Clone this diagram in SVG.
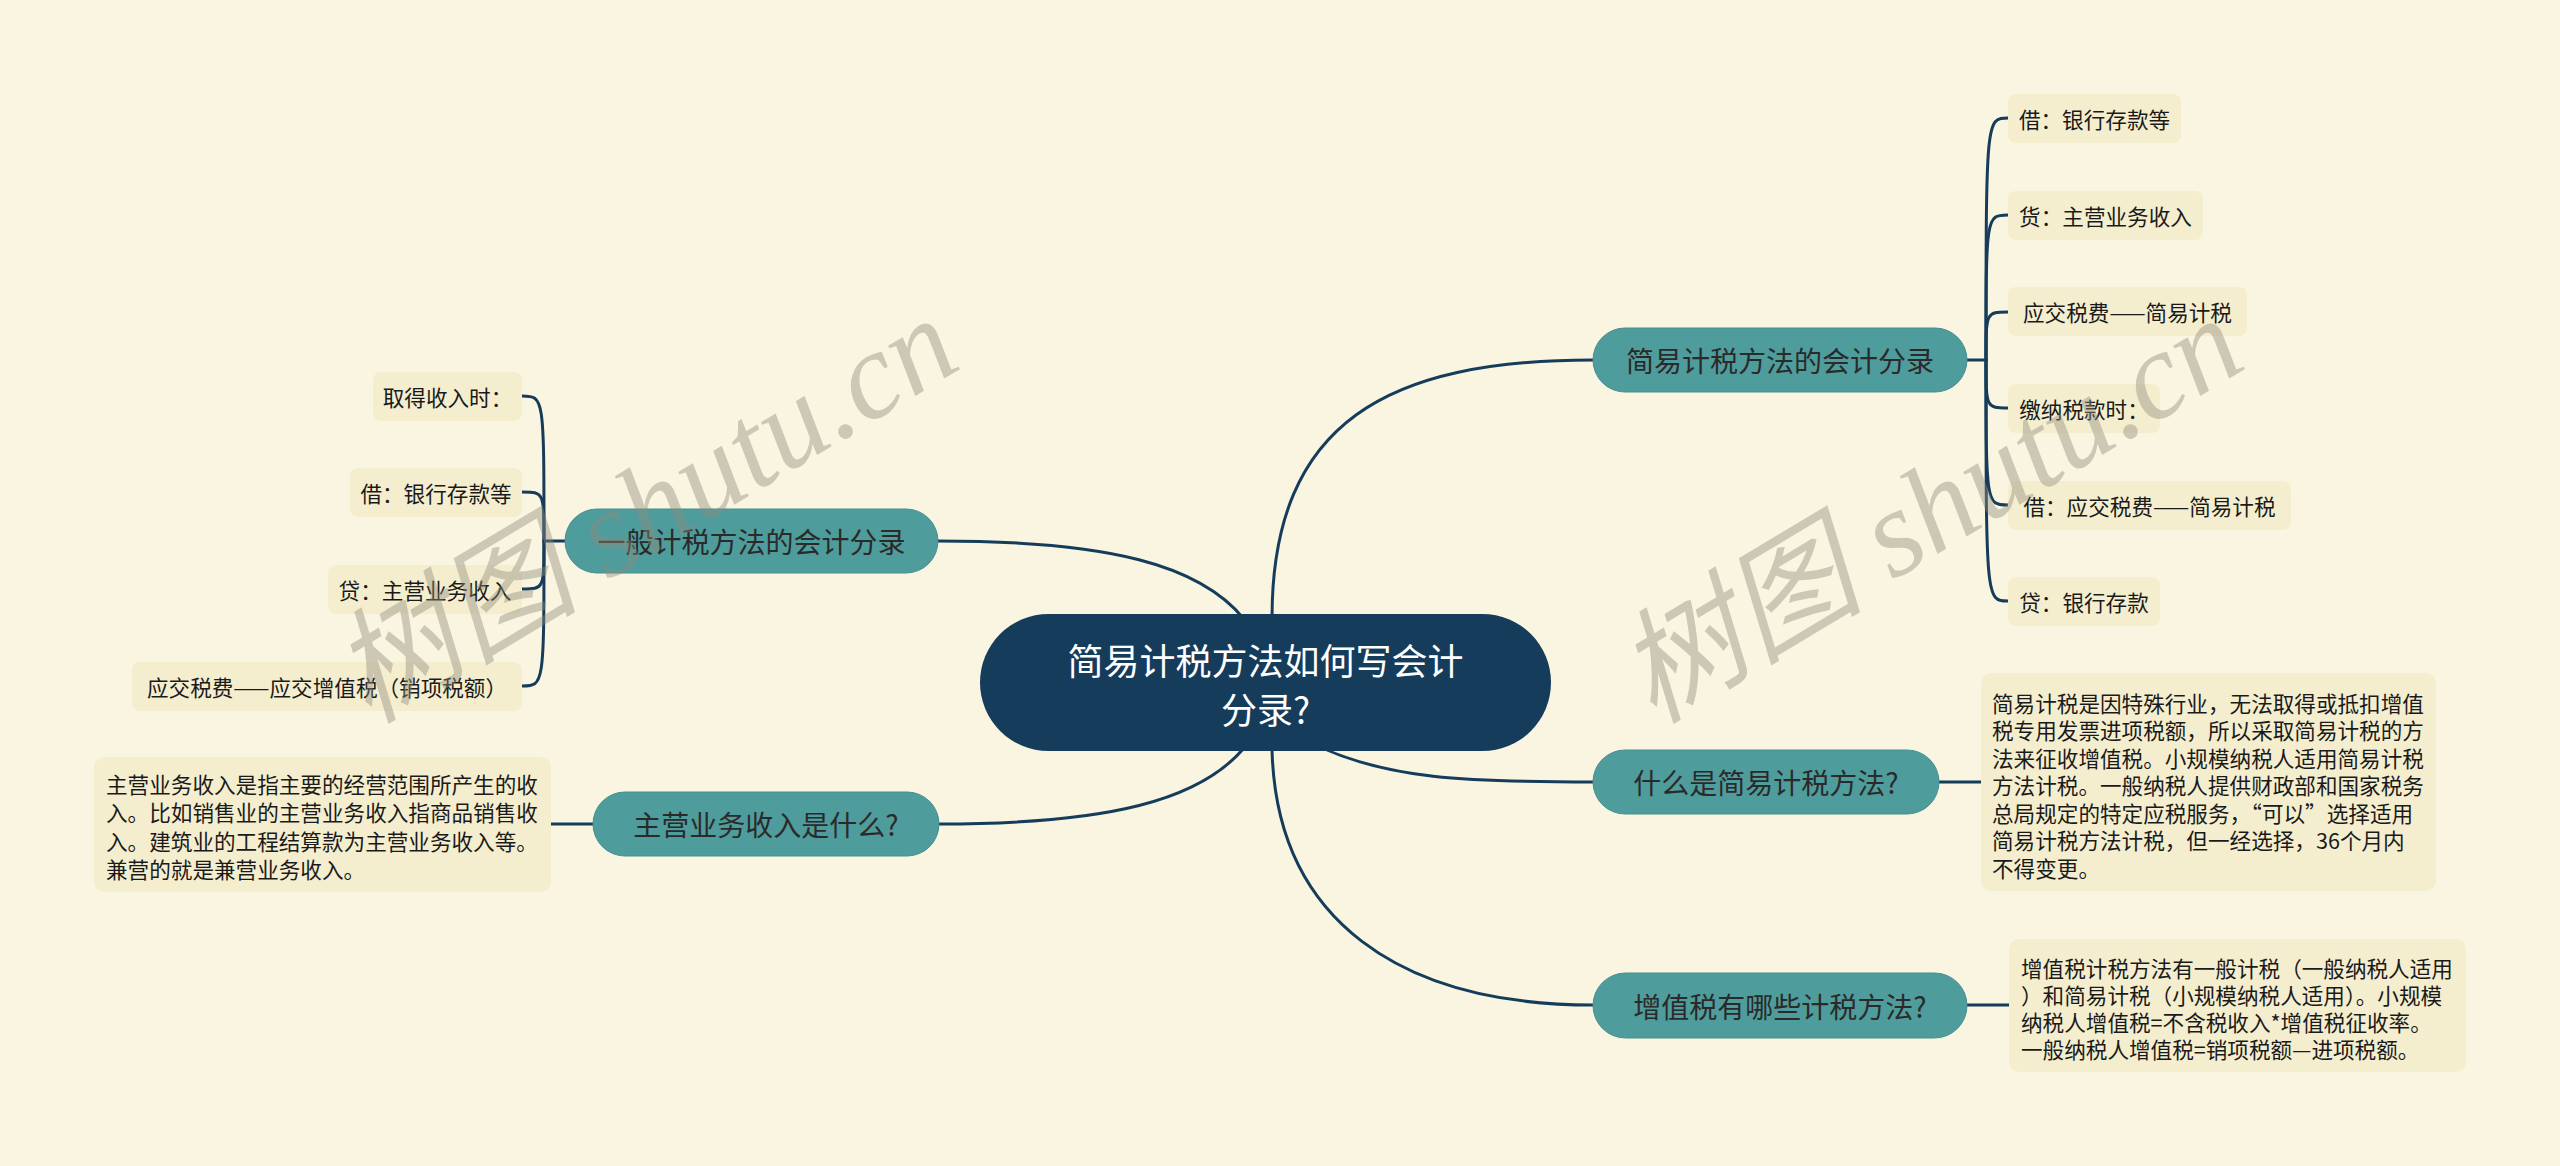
<svg xmlns="http://www.w3.org/2000/svg" width="2560" height="1166" viewBox="0 0 2560 1166">
<style>
.bg{fill:#f9f5e0}
.root{fill:#163c5b}
.rootText{fill:#ffffff;font-family:"Noto Sans CJK SC","Noto Sans",sans-serif;font-size:36px;text-anchor:middle;dominant-baseline:central}
.main{fill:#4f9c9c;stroke:#468f90;stroke-width:1}
.mainText{fill:#2a2a2a;font-family:"Noto Sans CJK SC","Noto Sans",sans-serif;font-size:28px;text-anchor:middle;dominant-baseline:central}
.leaf{fill:#f4eecf}
.leafText{fill:#1a1a1a;font-family:"Noto Sans CJK SC","Noto Sans",sans-serif;font-size:21.6px;text-anchor:middle;dominant-baseline:central}
.noteText{fill:#1a1a1a;font-family:"Noto Sans CJK SC","Noto Sans",sans-serif;font-size:21.6px;dominant-baseline:central}
.conn{fill:none;stroke:#163c5b;stroke-width:3;stroke-linecap:round}
.wm{fill:#8f8c7c;opacity:0.42;font-family:"Liberation Serif","Noto Sans CJK SC",serif;font-style:italic;font-size:124px;text-anchor:middle;dominant-baseline:central}
</style>
<rect class="bg" x="0" y="0" width="2560" height="1166"/>

<g id="connectors">
  <path class="conn" d="M1272,618 C1272,420 1390,360 1593,360"/>
  <path class="conn" d="M1322,748 C1390,778 1460,782 1593,782"/>
  <path class="conn" d="M1272,749 C1276,920 1400,1005 1593,1005"/>
  <path class="conn" d="M1244,619 C1200,565 1110,541 938,541"/>
  <path class="conn" d="M1244,748 C1200,800 1110,824 939,824"/>
  <path class="conn" d="M1967,360 L1986,360"/>
  <path class="conn" d="M1986,360 C1986,118 1986,118 2008,118"/>
  <path class="conn" d="M1986,360 C1986,215 1986,215 2008,215"/>
  <path class="conn" d="M1986,360 C1986,312 1986,312 2008,312"/>
  <path class="conn" d="M1986,360 C1986,408 1986,408 2008,408"/>
  <path class="conn" d="M1986,360 C1986,505 1986,505 2008,505"/>
  <path class="conn" d="M1986,360 C1986,601 1986,601 2008,601"/>
  <path class="conn" d="M1939,782 L1981,782"/>
  <path class="conn" d="M1967,1005 L2009,1005"/>
  <path class="conn" d="M565,541 L544,541"/>
  <path class="conn" d="M544,541 C544,396 544,396 522,396"/>
  <path class="conn" d="M544,541 C544,492 544,492 522,492"/>
  <path class="conn" d="M544,541 C544,589 544,589 522,589"/>
  <path class="conn" d="M544,541 C544,686 544,686 522,686"/>
  <path class="conn" d="M593,824 L551,824"/>
</g>

<g id="root">
  <rect class="root" x="980" y="614" width="571" height="137" rx="68.5"/>
  <text class="rootText" x="1265.5" y="659">简易计税方法如何写会计</text>
  <text class="rootText" x="1265.5" y="708">分录?</text>
</g>

<g id="r1">
  <rect class="main" x="1593" y="328" width="374" height="64" rx="32"/>
  <text class="mainText" x="1780" y="360">简易计税方法的会计分录</text>
</g>
<g id="r1a"><rect class="leaf" x="2008" y="94" width="173" height="49" rx="8"/><text class="leafText" x="2094.5" y="118.5">借：银行存款等</text></g>
<g id="r1b"><rect class="leaf" x="2008" y="191" width="195" height="49" rx="8"/><text class="leafText" x="2105.5" y="215.5">货：主营业务收入</text></g>
<g id="r1c"><rect class="leaf" x="2008" y="287" width="239" height="49" rx="8"/><text class="leafText" x="2127.5" y="311.5">应交税费——简易计税</text></g>
<g id="r1d"><rect class="leaf" x="2008" y="384" width="152" height="49" rx="8"/><text class="leafText" x="2084" y="408.5">缴纳税款时：</text></g>
<g id="r1e"><rect class="leaf" x="2008" y="481" width="283" height="49" rx="8"/><text class="leafText" x="2149.5" y="505.5">借：应交税费——简易计税</text></g>
<g id="r1f"><rect class="leaf" x="2008" y="577" width="152" height="49" rx="8"/><text class="leafText" x="2084" y="601.5">贷：银行存款</text></g>

<g id="r2">
  <rect class="main" x="1593" y="750" width="346" height="64" rx="32"/>
  <text class="mainText" x="1766" y="782">什么是简易计税方法?</text>
</g>
<g id="r2a">
  <rect class="leaf" x="1981" y="673" width="455" height="218" rx="10"/>
  <text class="noteText" x="1992" y="702">简易计税是因特殊行业，无法取得或抵扣增值</text>
  <text class="noteText" x="1992" y="729.5">税专用发票进项税额，所以采取简易计税的方</text>
  <text class="noteText" x="1992" y="757">法来征收增值税。小规模纳税人适用简易计税</text>
  <text class="noteText" x="1992" y="784.5">方法计税。一般纳税人提供财政部和国家税务</text>
  <text class="noteText" x="1992" y="812">总局规定的特定应税服务，“可以”选择适用</text>
  <text class="noteText" x="1992" y="839.5">简易计税方法计税，但一经选择，36个月内</text>
  <text class="noteText" x="1992" y="867">不得变更。</text>
</g>

<g id="r3">
  <rect class="main" x="1593" y="973" width="374" height="65" rx="32.5"/>
  <text class="mainText" x="1780" y="1005.5">增值税有哪些计税方法?</text>
</g>
<g id="r3a">
  <rect class="leaf" x="2009" y="939" width="457" height="133" rx="10"/>
  <text class="noteText" x="2021" y="967">增值税计税方法有一般计税（一般纳税人适用</text>
  <text class="noteText" x="2021" y="994">）和简易计税（小规模纳税人适用）。小规模</text>
  <text class="noteText" x="2021" y="1021">纳税人增值税=不含税收入*增值税征收率。</text>
  <text class="noteText" x="2021" y="1048">一般纳税人增值税=销项税额—进项税额。</text>
</g>

<g id="l1">
  <rect class="main" x="565" y="509" width="373" height="64" rx="32"/>
  <text class="mainText" x="751.5" y="541">一般计税方法的会计分录</text>
</g>
<g id="l1a"><rect class="leaf" x="373" y="372" width="149" height="49" rx="8"/><text class="leafText" x="447.5" y="396.5">取得收入时：</text></g>
<g id="l1b"><rect class="leaf" x="350" y="468" width="172" height="49" rx="8"/><text class="leafText" x="436" y="492.5">借：银行存款等</text></g>
<g id="l1c"><rect class="leaf" x="328" y="565" width="194" height="49" rx="8"/><text class="leafText" x="425" y="589.5">贷：主营业务收入</text></g>
<g id="l1d"><rect class="leaf" x="132" y="662" width="390" height="49" rx="8"/><text class="leafText" x="327" y="686.5">应交税费——应交增值税（销项税额）</text></g>

<g id="l2">
  <rect class="main" x="593" y="792" width="346" height="64" rx="32"/>
  <text class="mainText" x="766" y="824">主营业务收入是什么?</text>
</g>
<g id="l2a">
  <rect class="leaf" x="94" y="757" width="457" height="135" rx="10"/>
  <text class="noteText" x="106" y="783">主营业务收入是指主要的经营范围所产生的收</text>
  <text class="noteText" x="106" y="811.5">入。比如销售业的主营业务收入指商品销售收</text>
  <text class="noteText" x="106" y="840">入。建筑业的工程结算款为主营业务收入等。</text>
  <text class="noteText" x="106" y="868.5">兼营的就是兼营业务收入。</text>
</g>

<g id="watermarks">
  <text class="wm" transform="translate(645,510) rotate(-31)">树图 shutu.cn</text>
  <text class="wm" transform="translate(1930,510) rotate(-31)">树图 shutu.cn</text>
</g>
</svg>
